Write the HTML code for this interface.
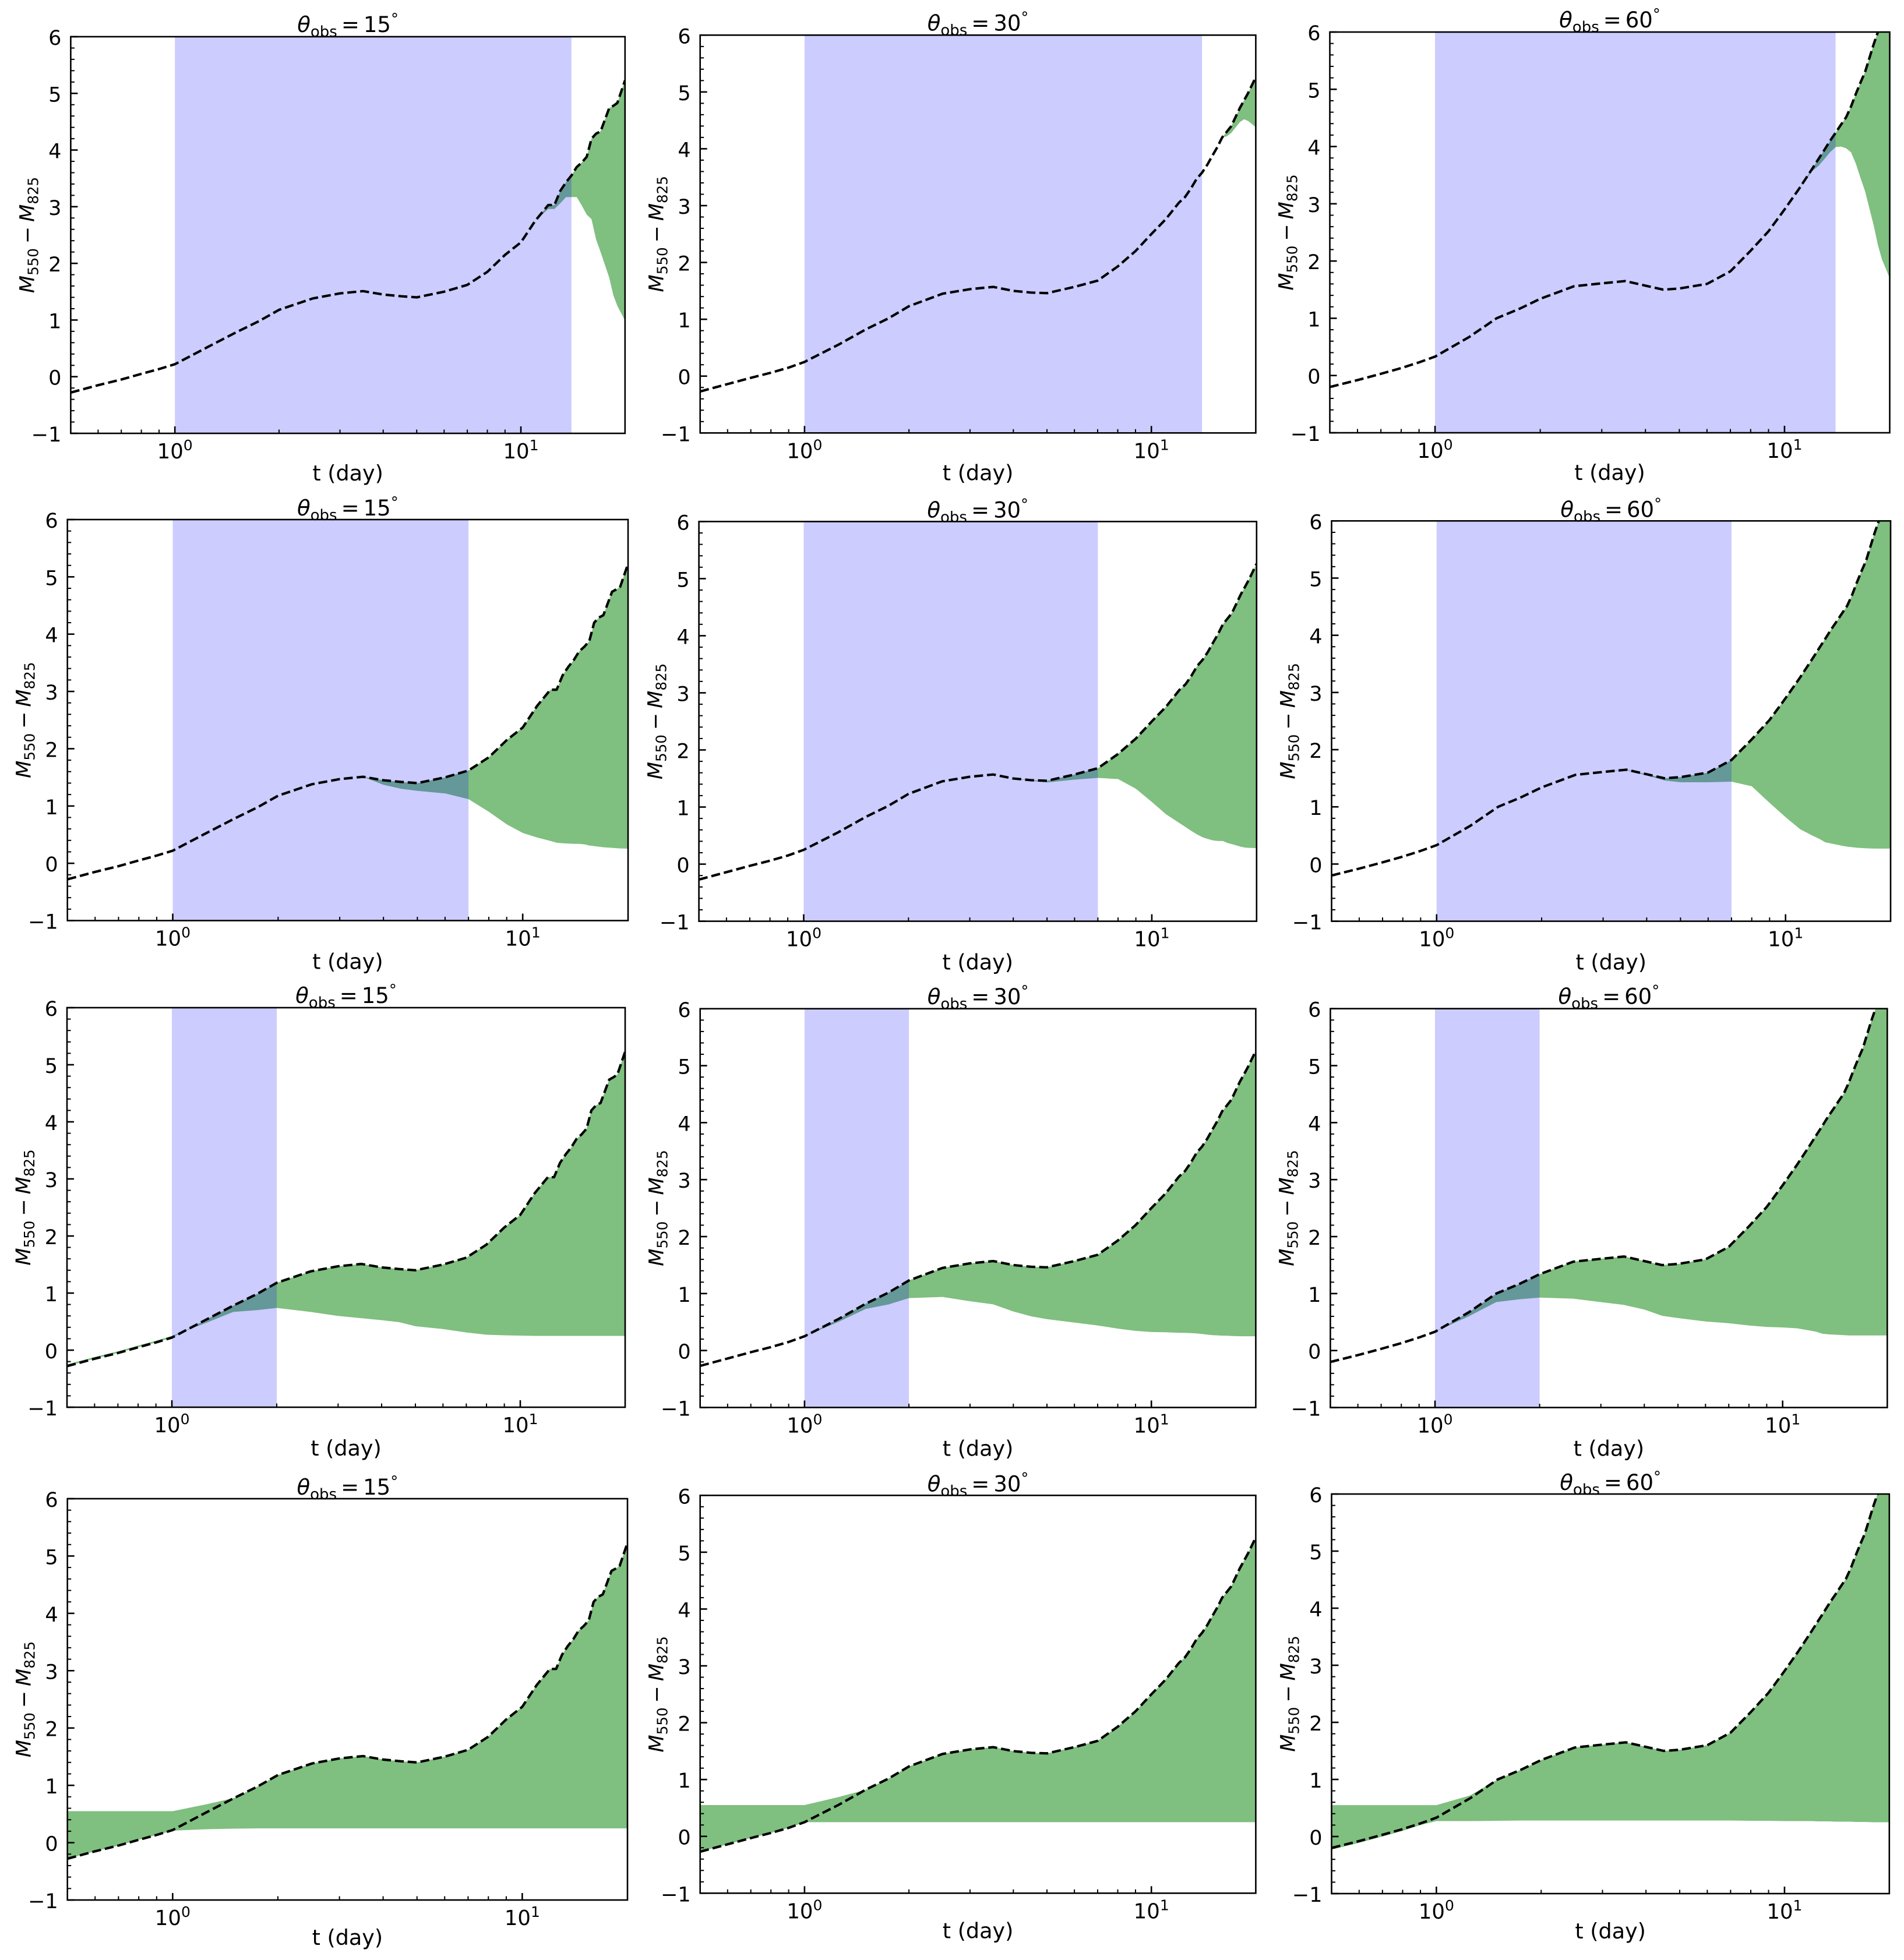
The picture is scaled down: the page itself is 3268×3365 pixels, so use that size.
<!DOCTYPE html>
<html lang="en">
<head>
<meta charset="utf-8">
<title>Color evolution M550 - M825 panels</title>
<style>
html,body{margin:0;padding:0;background:#fff;}
svg{display:block;}
text{font-family:"DejaVu Sans","Liberation Sans",sans-serif;fill:#000;}
</style>
</head>
<body>
<svg id="figure" xmlns="http://www.w3.org/2000/svg" width="3268" height="3365" viewBox="0 0 3268 3365"></svg>
<script>
// ---------- chart data ----------
const times = [0.5,0.6,0.7,0.8,0.9,1,1.25,1.5,1.75,2,2.5,3,3.5,4,4.5,5,6,7,8,9,10,11,12,12.5,13,13.5,14,14.5,15,15.5,16,16.5,17,18,18.5,19,20];

const angleLabels = ["15","30","60"];
const yTickValues = [-1,0,1,2,3,4,5,6];
const yMinorValues = [-0.8,-0.6,-0.4,-0.2,0.2,0.4,0.6,0.8,1.2,1.4,1.6,1.8,2.2,2.4,2.6,2.8,3.2,3.4,3.6,3.8,4.2,4.4,4.6,4.8,5.2,5.4,5.6,5.8];
const xMajorValues = [1,10];
const xMajorExponents = ["0","1"];
const xMinorValues = [0.5,0.6,0.7,0.8,0.9,2,3,4,5,6,7,8,9,20];
const spanStartDay = 1;
const spanEndDays = [14,7,2,null];

const upper15 = [-0.28,-0.15,-0.05,0.05,0.135,0.22,0.53,0.78,0.98,1.18,1.38,1.47,1.51,1.45,1.42,1.40,1.50,1.62,1.85,2.15,2.37,2.75,3.03,3.03,3.28,3.43,3.55,3.70,3.78,3.88,4.20,4.29,4.33,4.74,4.78,4.83,5.23];
const upper30 = [-0.27,-0.14,-0.03,0.06,0.15,0.25,0.55,0.82,1.02,1.23,1.45,1.53,1.57,1.50,1.47,1.46,1.57,1.68,1.93,2.20,2.50,2.76,3.05,3.15,3.30,3.47,3.58,3.72,3.88,4.03,4.20,4.30,4.40,4.72,4.85,4.98,5.26];
const upper60 = [-0.20,-0.08,0.03,0.13,0.23,0.33,0.67,1.00,1.17,1.34,1.56,1.61,1.65,1.57,1.50,1.52,1.60,1.82,2.18,2.52,2.90,3.26,3.61,3.78,3.94,4.10,4.24,4.38,4.51,4.70,4.92,5.12,5.30,5.79,6.00,6.20,6.55];

const lowerRow1Angle15 = [-0.28,-0.15,-0.05,0.05,0.135,0.22,0.53,0.78,0.98,1.18,1.38,1.47,1.51,1.45,1.42,1.40,1.50,1.62,1.85,2.15,2.37,2.75,2.96,2.96,3.06,3.17,3.17,3.17,3.02,2.86,2.78,2.42,2.20,1.75,1.44,1.25,0.99];
const lowerRow1Angle30 = [-0.27,-0.14,-0.03,0.06,0.15,0.25,0.55,0.82,1.02,1.23,1.45,1.53,1.57,1.50,1.47,1.46,1.57,1.68,1.93,2.20,2.50,2.76,3.05,3.15,3.30,3.47,3.58,3.72,3.88,4.03,4.20,4.22,4.28,4.47,4.52,4.49,4.38];
const lowerRow1Angle60 = [-0.20,-0.08,0.03,0.13,0.23,0.33,0.67,1.00,1.17,1.34,1.56,1.61,1.65,1.57,1.50,1.52,1.60,1.82,2.18,2.52,2.90,3.26,3.57,3.66,3.78,3.90,3.99,4.00,3.97,3.90,3.70,3.45,3.22,2.62,2.28,2.03,1.70];

const lowerRow2Angle15 = [-0.28,-0.15,-0.05,0.05,0.135,0.22,0.53,0.78,0.98,1.18,1.38,1.47,1.51,1.37,1.30,1.265,1.22,1.12,0.90,0.68,0.53,0.45,0.39,0.36,0.35,0.345,0.34,0.34,0.33,0.31,0.30,0.29,0.28,0.27,0.265,0.26,0.255];
const lowerRow2Angle30 = [-0.27,-0.14,-0.03,0.06,0.15,0.25,0.55,0.82,1.02,1.23,1.45,1.53,1.57,1.50,1.46,1.43,1.48,1.51,1.49,1.32,1.09,0.87,0.72,0.65,0.58,0.52,0.47,0.44,0.415,0.405,0.405,0.37,0.35,0.305,0.29,0.285,0.28];
const lowerRow2Angle60 = [-0.20,-0.08,0.03,0.13,0.23,0.33,0.67,1.00,1.17,1.34,1.56,1.61,1.64,1.55,1.46,1.43,1.43,1.44,1.36,1.07,0.82,0.61,0.49,0.44,0.38,0.36,0.34,0.32,0.305,0.295,0.285,0.28,0.275,0.27,0.27,0.27,0.27];

const lowerRow3Angle15 = [-0.25,-0.12,-0.02,0.08,0.165,0.25,0.475,0.67,0.70,0.74,0.67,0.60,0.56,0.525,0.49,0.42,0.37,0.31,0.27,0.26,0.255,0.25,0.25,0.25,0.25,0.25,0.25,0.25,0.25,0.25,0.25,0.25,0.25,0.25,0.25,0.25,0.25];
const lowerRow3Angle30 = [-0.27,-0.14,-0.03,0.06,0.15,0.25,0.50,0.73,0.81,0.92,0.94,0.865,0.81,0.685,0.60,0.55,0.49,0.44,0.385,0.345,0.325,0.32,0.31,0.31,0.305,0.30,0.29,0.28,0.27,0.265,0.26,0.26,0.255,0.25,0.25,0.25,0.25];
const lowerRow3Angle60 = [-0.20,-0.08,0.03,0.13,0.23,0.33,0.60,0.85,0.90,0.93,0.91,0.85,0.80,0.72,0.61,0.57,0.51,0.48,0.44,0.415,0.405,0.39,0.35,0.33,0.295,0.285,0.28,0.275,0.27,0.265,0.265,0.265,0.265,0.265,0.265,0.265,0.265];

const lowerRow4Angle15 = [-0.28,-0.15,-0.05,0.05,0.135,0.21,0.235,0.245,0.25,0.25,0.25,0.25,0.25,0.25,0.25,0.25,0.25,0.25,0.25,0.25,0.25,0.25,0.25,0.25,0.25,0.25,0.25,0.25,0.25,0.25,0.25,0.25,0.25,0.25,0.25,0.25,0.25];
const lowerRow4Angle30 = [-0.27,-0.14,-0.03,0.06,0.15,0.25,0.25,0.25,0.25,0.25,0.25,0.25,0.25,0.25,0.25,0.25,0.25,0.25,0.25,0.25,0.25,0.25,0.25,0.25,0.25,0.25,0.25,0.25,0.25,0.25,0.25,0.25,0.25,0.25,0.25,0.25,0.25];
const lowerRow4Angle60 = [-0.23,-0.11,0.00,0.10,0.20,0.27,0.27,0.275,0.28,0.28,0.28,0.28,0.28,0.28,0.28,0.28,0.28,0.28,0.275,0.275,0.27,0.27,0.27,0.265,0.265,0.265,0.26,0.26,0.26,0.26,0.255,0.255,0.255,0.25,0.25,0.25,0.25];

const bandTopRow4Angle15 = [0.55,0.55,0.55,0.55,0.55,0.55,0.67,0.78,0.98,1.18,1.38,1.47,1.51,1.45,1.42,1.40,1.50,1.62,1.85,2.15,2.37,2.75,3.03,3.03,3.28,3.43,3.55,3.70,3.78,3.88,4.20,4.29,4.33,4.74,4.78,4.83,5.23];
const bandTopRow4Angle30 = [0.55,0.55,0.55,0.55,0.55,0.55,0.69,0.82,1.02,1.23,1.45,1.53,1.57,1.50,1.47,1.46,1.57,1.68,1.93,2.20,2.50,2.76,3.05,3.15,3.30,3.47,3.58,3.72,3.88,4.03,4.20,4.30,4.40,4.72,4.85,4.98,5.26];
const bandTopRow4Angle60 = [0.55,0.55,0.55,0.55,0.55,0.55,0.72,1.00,1.17,1.34,1.56,1.61,1.65,1.57,1.50,1.52,1.60,1.82,2.18,2.52,2.90,3.26,3.61,3.78,3.94,4.10,4.24,4.38,4.51,4.70,4.92,5.12,5.30,5.79,6.00,6.20,6.55];

const upperByAngle = [upper15,upper30,upper60];
const lowerByPanel = [
  [lowerRow1Angle15,lowerRow1Angle30,lowerRow1Angle60],
  [lowerRow2Angle15,lowerRow2Angle30,lowerRow2Angle60],
  [lowerRow3Angle15,lowerRow3Angle30,lowerRow3Angle60],
  [lowerRow4Angle15,lowerRow4Angle30,lowerRow4Angle60]
];
const bandTopByPanel = [
  upperByAngle,
  upperByAngle,
  upperByAngle,
  [bandTopRow4Angle15,bandTopRow4Angle30,bandTopRow4Angle60]
];

// ---------- layout only (pixel frames of the axes: left, right, top, bottom) ----------
const axesFrames = [
  [[121.4,1072.8,63,744],[1201.7,2155.4,60.3,743.3],[2282.5,3243.5,55,743]],
  [[115.7,1078,892,1580.5],[1199.6,2156.8,895.4,1581.6],[2285.5,3245,894.3,1581.6]],
  [[115,1073,1730,2416],[1201.7,2155.4,1731.8,2416.4],[2283.4,3239.3,1731.7,2416.5]],
  [[115.7,1077,2573,3262],[1201.7,2155.4,2567.3,3250.3],[2285.5,3242.8,2565,3251]]
];
const xLabelOffsets = [81,83,83,77];
const titleOffsets = [8,7,8,7];

const SVG_NS = "http://www.w3.org/2000/svg";
const root = document.getElementById("figure");
const xMinDay = 0.5, xMaxDay = 20, yMinVal = -1, yMaxVal = 6;

function make(tag, parent, attrs, text){
  const node = document.createElementNS(SVG_NS, tag);
  for (const k in attrs) node.setAttribute(k, attrs[k]);
  if (text !== undefined) node.textContent = text;
  parent.appendChild(node);
  return node;
}
function xScale(frame, t){
  const lo = Math.log10(xMinDay), hi = Math.log10(xMaxDay);
  return frame[0] + (Math.log10(t) - lo) / (hi - lo) * (frame[1] - frame[0]);
}
function yScale(frame, v){
  return frame[2] + (yMaxVal - v) / (yMaxVal - yMinVal) * (frame[3] - frame[2]);
}
function pointsFor(frame, xs, ys){
  return xs.map(function(t, i){ return xScale(frame, t).toFixed(2) + "," + yScale(frame, ys[i]).toFixed(2); });
}

for (let row = 0; row < 4; row++) {
  for (let col = 0; col < 3; col++) {
    const frame = axesFrames[row][col];
    const left = frame[0], right = frame[1], top = frame[2], bottom = frame[3];
    const tag = "r" + (row + 1) + "-" + angleLabels[col];

    const panel = make("g", root, {});
    
    

    const clipId = "clip-" + tag;
    const defs = make("defs", panel, {});
    const clip = make("clipPath", defs, {id: clipId});
    make("rect", clip, {x: left, y: top, width: right - left, height: bottom - top});

    const plot = make("g", panel, {"clip-path": "url(#" + clipId + ")"});

    // green uncertainty band
    const upper = upperByAngle[col];
    const bandTop = bandTopByPanel[row][col];
    const lower = lowerByPanel[row][col];
    const poly = pointsFor(frame, times, bandTop).concat(pointsFor(frame, times, lower).reverse());
    const band = make("polygon", plot, {points: poly.join(" "), fill: "#008000", "fill-opacity": "0.5", stroke: "none"});
    
    

    // blue observation window
    const spanEnd = spanEndDays[row];
    if (spanEnd !== null) {
      const x0 = xScale(frame, spanStartDay), x1 = xScale(frame, spanEnd);
      const span = make("rect", plot, {x: x0, y: top, width: x1 - x0, height: bottom - top, fill: "#0000ff", "fill-opacity": "0.2"});
      
      
    }

    // dashed reference curve
    const curve = make("polyline", plot, {points: pointsFor(frame, times, upper).join(" "), fill: "none", stroke: "#000", "stroke-width": "4.2", "stroke-dasharray": "15.4 6.7", "stroke-linejoin": "round"});
    
    

    // axes frame
    const box = make("rect", panel, {x: left, y: top, width: right - left, height: bottom - top, fill: "none", stroke: "#000", "stroke-width": "2.6"});
    
    

    // y ticks and labels
    const yAxis = make("g", panel, {});
    
    
    yMinorValues.forEach(function(v){
      const y = yScale(frame, v);
      make("line", yAxis, {x1: left, x2: left + 6.5, y1: y, y2: y, stroke: "#000", "stroke-width": "2"});
    });
    yTickValues.forEach(function(v){
      const y = yScale(frame, v);
      make("line", yAxis, {x1: left, x2: left + 12, y1: y, y2: y, stroke: "#000", "stroke-width": "2.6"});
      const label = make("text", yAxis, {x: left - 16, y: y + 14, "text-anchor": "end", "font-size": "35"}, v < 0 ? "\u2212" + Math.abs(v) : String(v));
      
      
    });

    // x ticks and labels
    const xAxis = make("g", panel, {});
    
    
    xMinorValues.forEach(function(t){
      const x = xScale(frame, t);
      make("line", xAxis, {x1: x, x2: x, y1: bottom, y2: bottom - 6.5, stroke: "#000", "stroke-width": "2"});
    });
    xMajorValues.forEach(function(t, i){
      const x = xScale(frame, t);
      make("line", xAxis, {x1: x, x2: x, y1: bottom, y2: bottom - 12, stroke: "#000", "stroke-width": "2.6"});
      const label = make("text", xAxis, {x: x, y: bottom + 43, "text-anchor": "middle", "font-size": "35.5"});
      
      
      make("tspan", label, {}, "10");
      make("tspan", label, {dy: "-14", "font-size": "25"}, xMajorExponents[i]);
    });

    // x axis title
    const xTitle = make("text", panel, {x: (left + right) / 2, y: bottom + xLabelOffsets[row], "text-anchor": "middle", "font-size": "36.5"}, "t (day)");
    
    

    // y axis title
    const cy = (top + bottom) / 2, cx = left - 63;
    const yTitle = make("text", panel, {x: cx, y: cy, "text-anchor": "middle", "font-size": "35", transform: "rotate(-90 " + cx + " " + cy + ")"});
    
    
    make("tspan", yTitle, {"font-style": "italic"}, "M");
    make("tspan", yTitle, {dy: "7", "font-size": "24.5"}, "550");
    make("tspan", yTitle, {dy: "-7", dx: "8"}, "\u2212");
    make("tspan", yTitle, {dx: "8", "font-style": "italic"}, "M");
    make("tspan", yTitle, {dy: "7", "font-size": "24.5"}, "825");

    // panel title
    const title = make("text", panel, {x: (left + right) / 2, y: top - titleOffsets[row], "text-anchor": "middle", "font-size": "37"});
    
    
    make("tspan", title, {"font-style": "italic"}, "\u03B8");
    make("tspan", title, {dy: "8", "font-size": "26"}, "obs");
    make("tspan", title, {dy: "-8", dx: "7"}, "=");
    make("tspan", title, {dx: "7"}, angleLabels[col]);
    make("tspan", title, {dy: "-14", "font-size": "26"}, "\u00B0");
  }
}
</script>
</body>
</html>
